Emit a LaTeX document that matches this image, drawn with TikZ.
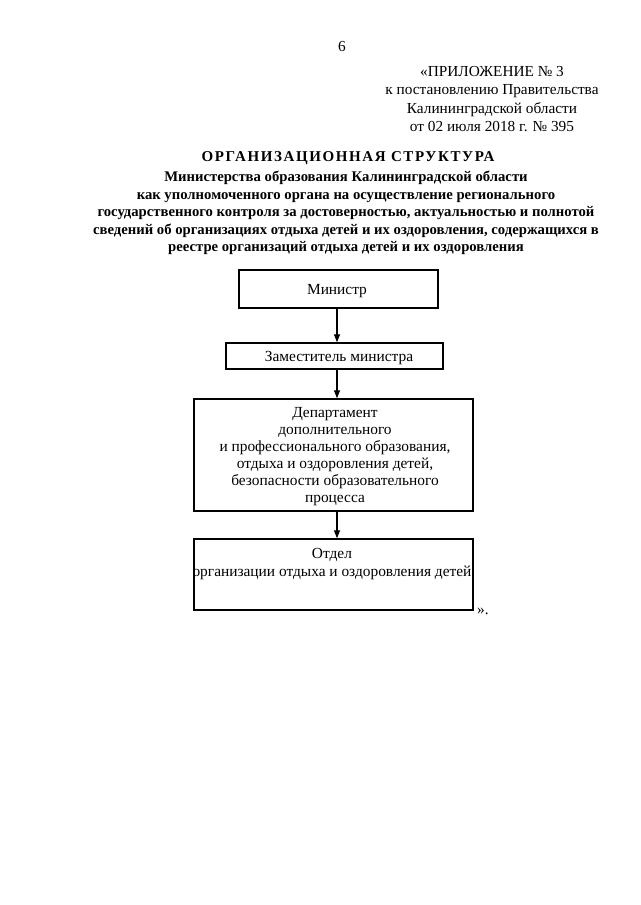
\documentclass[tikz,border=0pt]{standalone}
\usepackage{fontspec}
\setmainfont{Liberation Serif}
\usetikzlibrary{arrows.meta}
\tikzset{
  txt/.style={inner sep=0pt, align=center, font=\fontsize{15.3}{18.3}\selectfont},
  ttl/.style={inner sep=0pt, align=center, font=\bfseries\fontsize{14.7}{17.5}\selectfont},
  box/.style={draw, line width=1.4pt, inner sep=0pt},
  btxt/.style={inner sep=0pt, align=center, font=\fontsize{15.4}{17}\selectfont},
  arr/.style={line width=1.2pt, -{Triangle[length=8pt,width=6pt]}}
}
\begin{document}
\begin{tikzpicture}[x=1pt,y=-1pt]
\useasboundingbox[fill=white] (0,0) rectangle (640,905);
\node[txt] (pagenum) at (342,47) {6};
\node[txt] (appx) at (492,99) {«ПРИЛОЖЕНИЕ № 3\\к постановлению Правительства\\Калининградской области\\от 02 июля 2018 г. № 395};
\node[ttl, font=\bfseries\fontsize{15}{17.5}\selectfont] (title) at (348,158) {\addfontfeatures{LetterSpace=10.7}ОРГАНИЗАЦИОННАЯ СТРУКТУРА};
\node[ttl] (subtitle) at (346,213) {Министерства образования Калининградской области\\как уполномоченного органа на осуществление регионального\\государственного контроля за достоверностью, актуальностью и полнотой\\сведений об организациях отдыха детей и их оздоровления, содержащихся в\\реестре организаций отдыха детей и их оздоровления};

\node[box, minimum width=199pt, minimum height=38pt] (min) at (338.5,289) {};
\node[btxt] (mintext) at (337,291) {Министр};
\node[box, minimum width=217pt, minimum height=26pt] (zam) at (334.5,356) {};
\node[btxt] (zamtext) at (339,358) {Заместитель министра};
\node[box, minimum width=279pt, minimum height=112pt] (dept) at (333.5,455) {};
\node[btxt] (depttext) at (335,457) {Департамент\\дополнительного\\и профессионального образования,\\отдыха и оздоровления детей,\\безопасности образовательного\\процесса};
\node[box, minimum width=279pt, minimum height=71pt] (otdel) at (333.5,574.5) {};
\node[btxt, font=\fontsize{15.4}{18}\selectfont] (otdeltext) at (332,564) {Отдел\\организации отдыха и оздоровления детей};
\node[txt, anchor=base west] (quote) at (477,614) {».};

\coordinate (axis) at (337,0);
\draw[arr] (axis |- min.south) -- (axis |- zam.north);
\draw[arr] (axis |- zam.south) -- (axis |- dept.north);
\draw[arr] (axis |- dept.south) -- (axis |- otdel.north);
\end{tikzpicture}
\end{document}
